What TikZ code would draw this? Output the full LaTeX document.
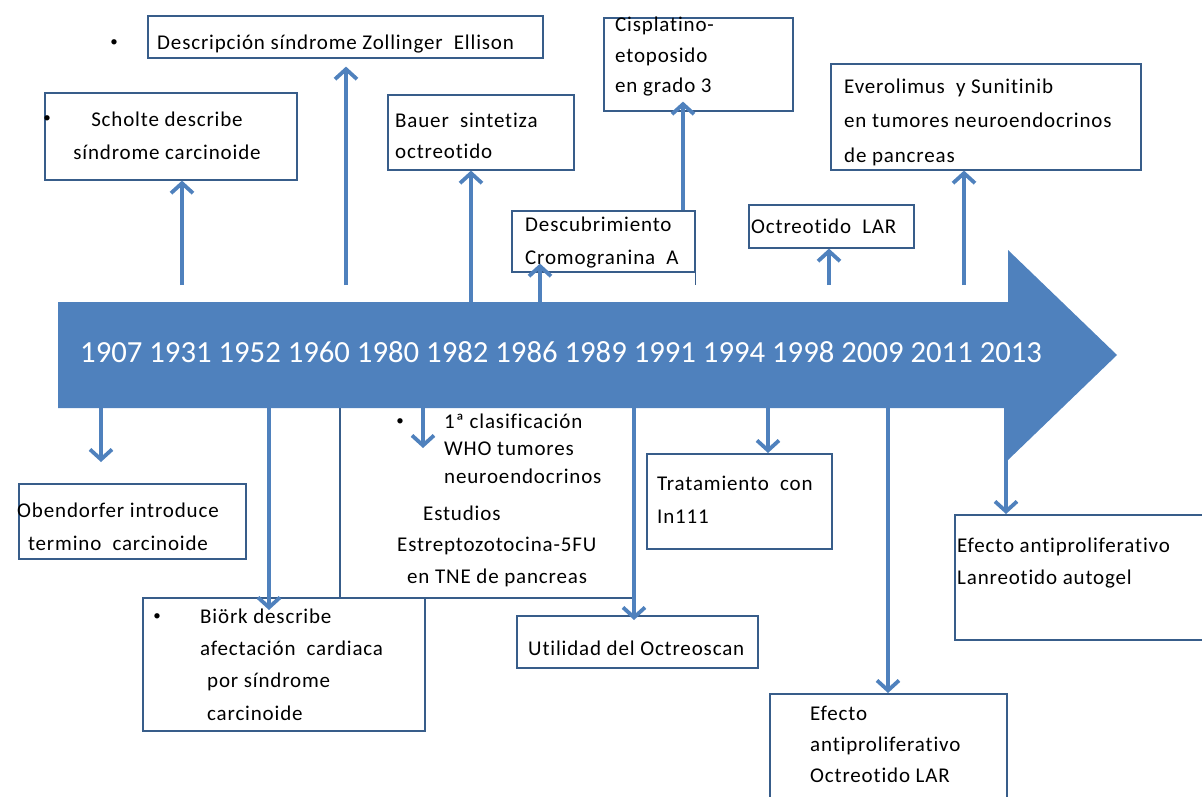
\documentclass[tikz,border=0pt]{standalone}
\usepackage{fontspec}
\setmainfont{Carlito}
\newfontfamily\cajafont[LetterSpace=4, Ligatures=NoCommon]{Carlito}
\usetikzlibrary{arrows.meta, positioning}
\definecolor{azulflecha}{HTML}{4F81BD}
\definecolor{azulborde}{HTML}{385D8A}

\begin{document}
\begin{tikzpicture}[x=1pt, y=-1pt,
    hito/.style={draw=azulborde, line width=1.6pt, inner sep=0pt, anchor=north west},
    texto/.style={inner sep=0pt, anchor=base west, align=left, font=\cajafont\fontsize{21}{33}\selectfont},
    vineta/.style={inner sep=0pt, anchor=center, font=\fontsize{15}{15}\selectfont},
    flecha/.style={draw=azulflecha, line width=3.8pt, -{Straight Barb[length=10pt, width=22pt]}}]

    \useasboundingbox (0,0) rectangle (1202,797);
    \clip (0,0) rectangle (1202,797);

    % cajas de arriba
    \node[hito, minimum width=395pt, minimum height=42pt] (zoll) at (147,15) {};
    \node[hito, minimum width=252pt, minimum height=87pt] (scholte) at (44,92) {};
    \node[hito, minimum width=186pt, minimum height=75pt] (bauer) at (387,94) {};
    \node[hito, minimum width=183pt, minimum height=61pt] (cromo) at (511,210) {};
    \node[hito, minimum width=189pt, minimum height=93pt] (cispla) at (603,17) {};
    \node[hito, minimum width=165pt, minimum height=43pt] (octlar) at (748,204) {};
    \node[hito, minimum width=310pt, minimum height=106pt] (everol) at (830,63) {};

    % cajas de abajo
    \node[hito, minimum width=227pt, minimum height=75pt] (obend) at (18,483) {};
    \node[hito, minimum width=282pt, minimum height=133pt] (biork) at (142,597) {};
    \node[hito, minimum width=294pt, minimum height=192pt] (clasif) at (339,405) {};
    \node[hito, minimum width=241pt, minimum height=52pt] (octscan) at (516,615) {};
    \node[hito, minimum width=185pt, minimum height=95pt] (tratam) at (646,453) {};
    \node[hito, minimum width=237pt, minimum height=130pt] (efocl) at (769,693) {};
    \node[hito, minimum width=270pt, minimum height=125pt] (lanreo) at (954,514) {};

    % flecha del tiempo
    \fill[azulflecha] (58,302) -- (1008,302) -- (1008,250) -- (1117,355)
        -- (1008,460) -- (1008,408) -- (58,408) -- cycle;
    \node[inner sep=0pt, anchor=base west, text=white, font=\fontsize{30.7}{30}\selectfont] (anios) at (80,362)
        {1907 1931 1952 1960 1980 1982 1986 1989 1991 1994 1998 2009 2011 2013};

    % textos (anclados en la linea base de la ultima linea)
    \node[texto] (zollT) at (157,50) {Descripción síndrome Zollinger\ \ Ellison};
    \node[vineta] (zollB) at (114,43) {•};
    \node[texto, anchor=base, align=center] (scholteT) at (167,160) {Scholte describe\\síndrome carcinoide};
    \node[vineta] (scholteB) at (47,119) {•};
    \node[texto, font=\cajafont\fontsize{21}{32}\selectfont] (bauerT) at (395,159) {Bauer\ \ sintetiza\\octreotido};
    \node[texto] (cromoT) at (525,264) {Descubrimiento\\Cromogranina\ \ A};
    \node[texto, font=\cajafont\fontsize{21}{30.5}\selectfont] (cisplaT) at (615,93) {Cisplatino-\\etoposido\\en grado 3};
    \node[texto] (octlarT) at (751,233) {Octreotido\ \ LAR};
    \node[texto, font=\cajafont\fontsize{21}{34.5}\selectfont] (everolT) at (844,162) {Everolimus\ \ y Sunitinib\\en tumores neuroendocrinos\\de pancreas};
    \node[texto, anchor=base, align=center] (obendT) at (118,550) {Obendorfer introduce\\termino\ \ carcinoide};
    \node[vineta] (biorkB) at (157,617) {•};
    \node[texto, font=\cajafont\fontsize{21}{32.3}\selectfont] (biorkT) at (200,720) {Biörk describe\\afectación\ \ cardiaca\\\hspace*{7pt}por síndrome\\\hspace*{7pt}carcinoide};
    \node[vineta] (clasifB) at (400,422) {•};
    \node[texto, font=\cajafont\fontsize{21}{27.5}\selectfont] (clasifT) at (444,483) {1ª clasificación\\WHO tumores\\neuroendocrinos};
    \node[texto, font=\cajafont\fontsize{21}{31.5}\selectfont] (estudT) at (397,583) {\hspace*{26pt}Estudios\\Estreptozotocina-5FU\\\hspace*{10pt}en TNE de pancreas};
    \node[texto] (octscanT) at (528,655) {Utilidad del Octreoscan};
    \node[texto] (tratamT) at (657,523) {Tratamiento\ \ con\\In111};
    \node[texto, font=\cajafont\fontsize{21}{31}\selectfont] (efoclT) at (810,782) {Efecto\\antiproliferativo\\Octreotido LAR};
    \node[texto, font=\cajafont\fontsize{21}{32}\selectfont] (lanreoT) at (957,584) {Efecto antiproliferativo\\Lanreotido autogel};

    % puntos sobre la flecha
    \coordinate (a1931) at (182,285);
    \coordinate (a1960) at (346,285);
    \coordinate (a1982) at (471,302);
    \coordinate (a1986) at (540,302);
    \coordinate (a1998) at (829,285);
    \coordinate (a2011) at (964,285);
    \coordinate (b1907) at (101,408);
    \coordinate (b1952) at (269,408);
    \coordinate (b1980) at (423,408);
    \coordinate (b1989) at (634,408);
    \coordinate (b1994) at (768,408);
    \coordinate (b2009) at (888,408);
    \coordinate (b2013) at (1006,408);

    % flechas hacia arriba
    \draw[flecha] (a1931) -- (a1931 |- scholte.south);
    \draw[flecha, shorten >=8pt] (a1960) -- (a1960 |- zoll.south);
    \draw[flecha] (a1982) -- (a1982 |- bauer.south);
    \draw[flecha, shorten >=-9pt] (a1986) -- (a1986 |- cromo.south);
    \draw[flecha, shorten >=-10pt] (cromo.north -| 683,0) -- (cispla.south -| 683,0);
    \draw[draw=azulborde, line width=1.6pt] (cromo.south east) -- (cromo.south east |- a1931);
    \draw[flecha] (a1998) -- (a1998 |- octlar.south);
    \draw[flecha] (a2011) -- (a2011 |- everol.south);

    % flechas hacia abajo
    \draw[flecha, shorten >=21pt] (b1907) -- (b1907 |- obend.north);
    \draw[flecha, shorten >=-13pt] (b1952) -- (b1952 |- biork.north);
    \draw[flecha] (b1980) -- ++(0,40);
    \draw[flecha, shorten >=-5pt] (b1989) -- (b1989 |- octscan.north);
    \draw[flecha] (b1994) -- (b1994 |- tratam.north);
    \draw[flecha] (b2009) -- (b2009 |- efocl.north);
    \draw[flecha] (b2013) -- (b2013 |- lanreo.north);
\end{tikzpicture}
\end{document}
